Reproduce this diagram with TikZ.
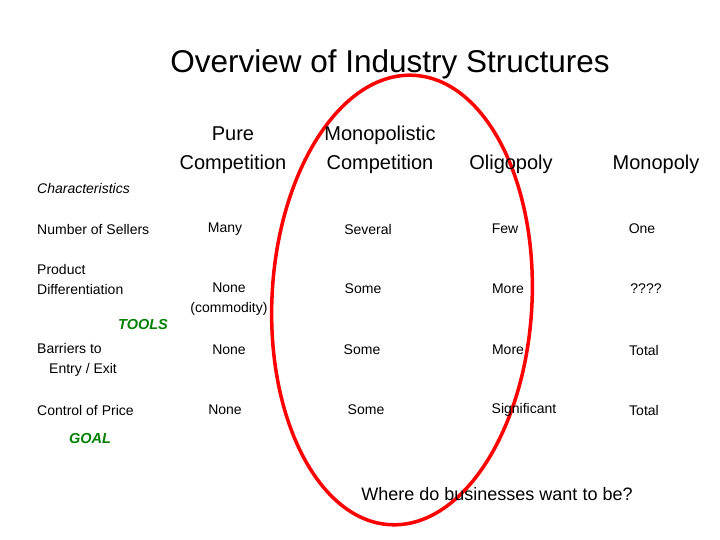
\documentclass[tikz,border=0pt]{standalone}
\usepackage{fontspec}
\setmainfont{Liberation Sans}
\begin{document}
\begin{tikzpicture}[x=1pt,y=-1pt,inner sep=0pt,
  ttl/.style={font=\fontsize{31.5}{36}\selectfont},
  hdr/.style={font=\fontsize{20}{29}\selectfont,align=center},
  cell/.style={font=\fontsize{14}{20}\selectfont,align=center},
  lbl/.style={font=\fontsize{14}{20}\selectfont,anchor=west,align=left},
  grn/.style={font=\fontsize{14.5}{16}\selectfont\bfseries\itshape,text=green!50!black}]
\useasboundingbox (0,0) rectangle (720,540);
\draw[red,line width=3.5pt] (402,300) ellipse [x radius=130,y radius=225,rotate=-3];
\node[ttl] (title) at (390,64) {Overview of Industry Structures};
\node[hdr] (h1) at (233,150) {Pure\\Competition};
\node[hdr] (h2) at (380,150) {Monopolistic\\Competition};
\node[hdr] (h3) at (511,164) {Oligopoly};
\node[hdr] (h4) at (656,164) {Monopoly};
\node[lbl,font=\fontsize{14}{16}\selectfont\itshape] (ch) at (37,188) {Characteristics};
\node[lbl] (r1) at (37,229) {Number of Sellers};
\node[lbl] (r2) at (37,279) {Product\\Differentiation};
\node[lbl] (r3) at (37,360) {Barriers to\\\hspace*{12pt}Entry / Exit};
\node[lbl] (r4) at (37,410) {Control of Price};
\node[grn] (tools) at (143,325) {TOOLS};
\node[grn] (goal) at (90,439) {GOAL};
\node[cell] (a1) at (225,229) {Many};
\node[cell] (b1) at (368,229) {Several};
\node[cell] (c1) at (505,229) {Few};
\node[cell] (d1) at (642,229) {One};
\node[cell] (a2) at (229,299) {None\\(commodity)};
\node[cell] (b2) at (363,289) {Some};
\node[cell] (c2) at (508,289) {More};
\node[cell] (d2) at (646,289) {????};
\node[cell] (a3) at (229,350) {None};
\node[cell] (b3) at (362,350) {Some};
\node[cell] (c3) at (508,350) {More};
\node[cell] (d3) at (644,350) {Total};
\node[cell] (a4) at (225,410) {None};
\node[cell] (b4) at (366,410) {Some};
\node[cell] (c4) at (524,410) {Significant};
\node[cell] (d4) at (644,410) {Total};
\node[font=\fontsize{18}{20}\selectfont] (q) at (497,494) {Where do businesses want to be?};
\end{tikzpicture}
\end{document}
